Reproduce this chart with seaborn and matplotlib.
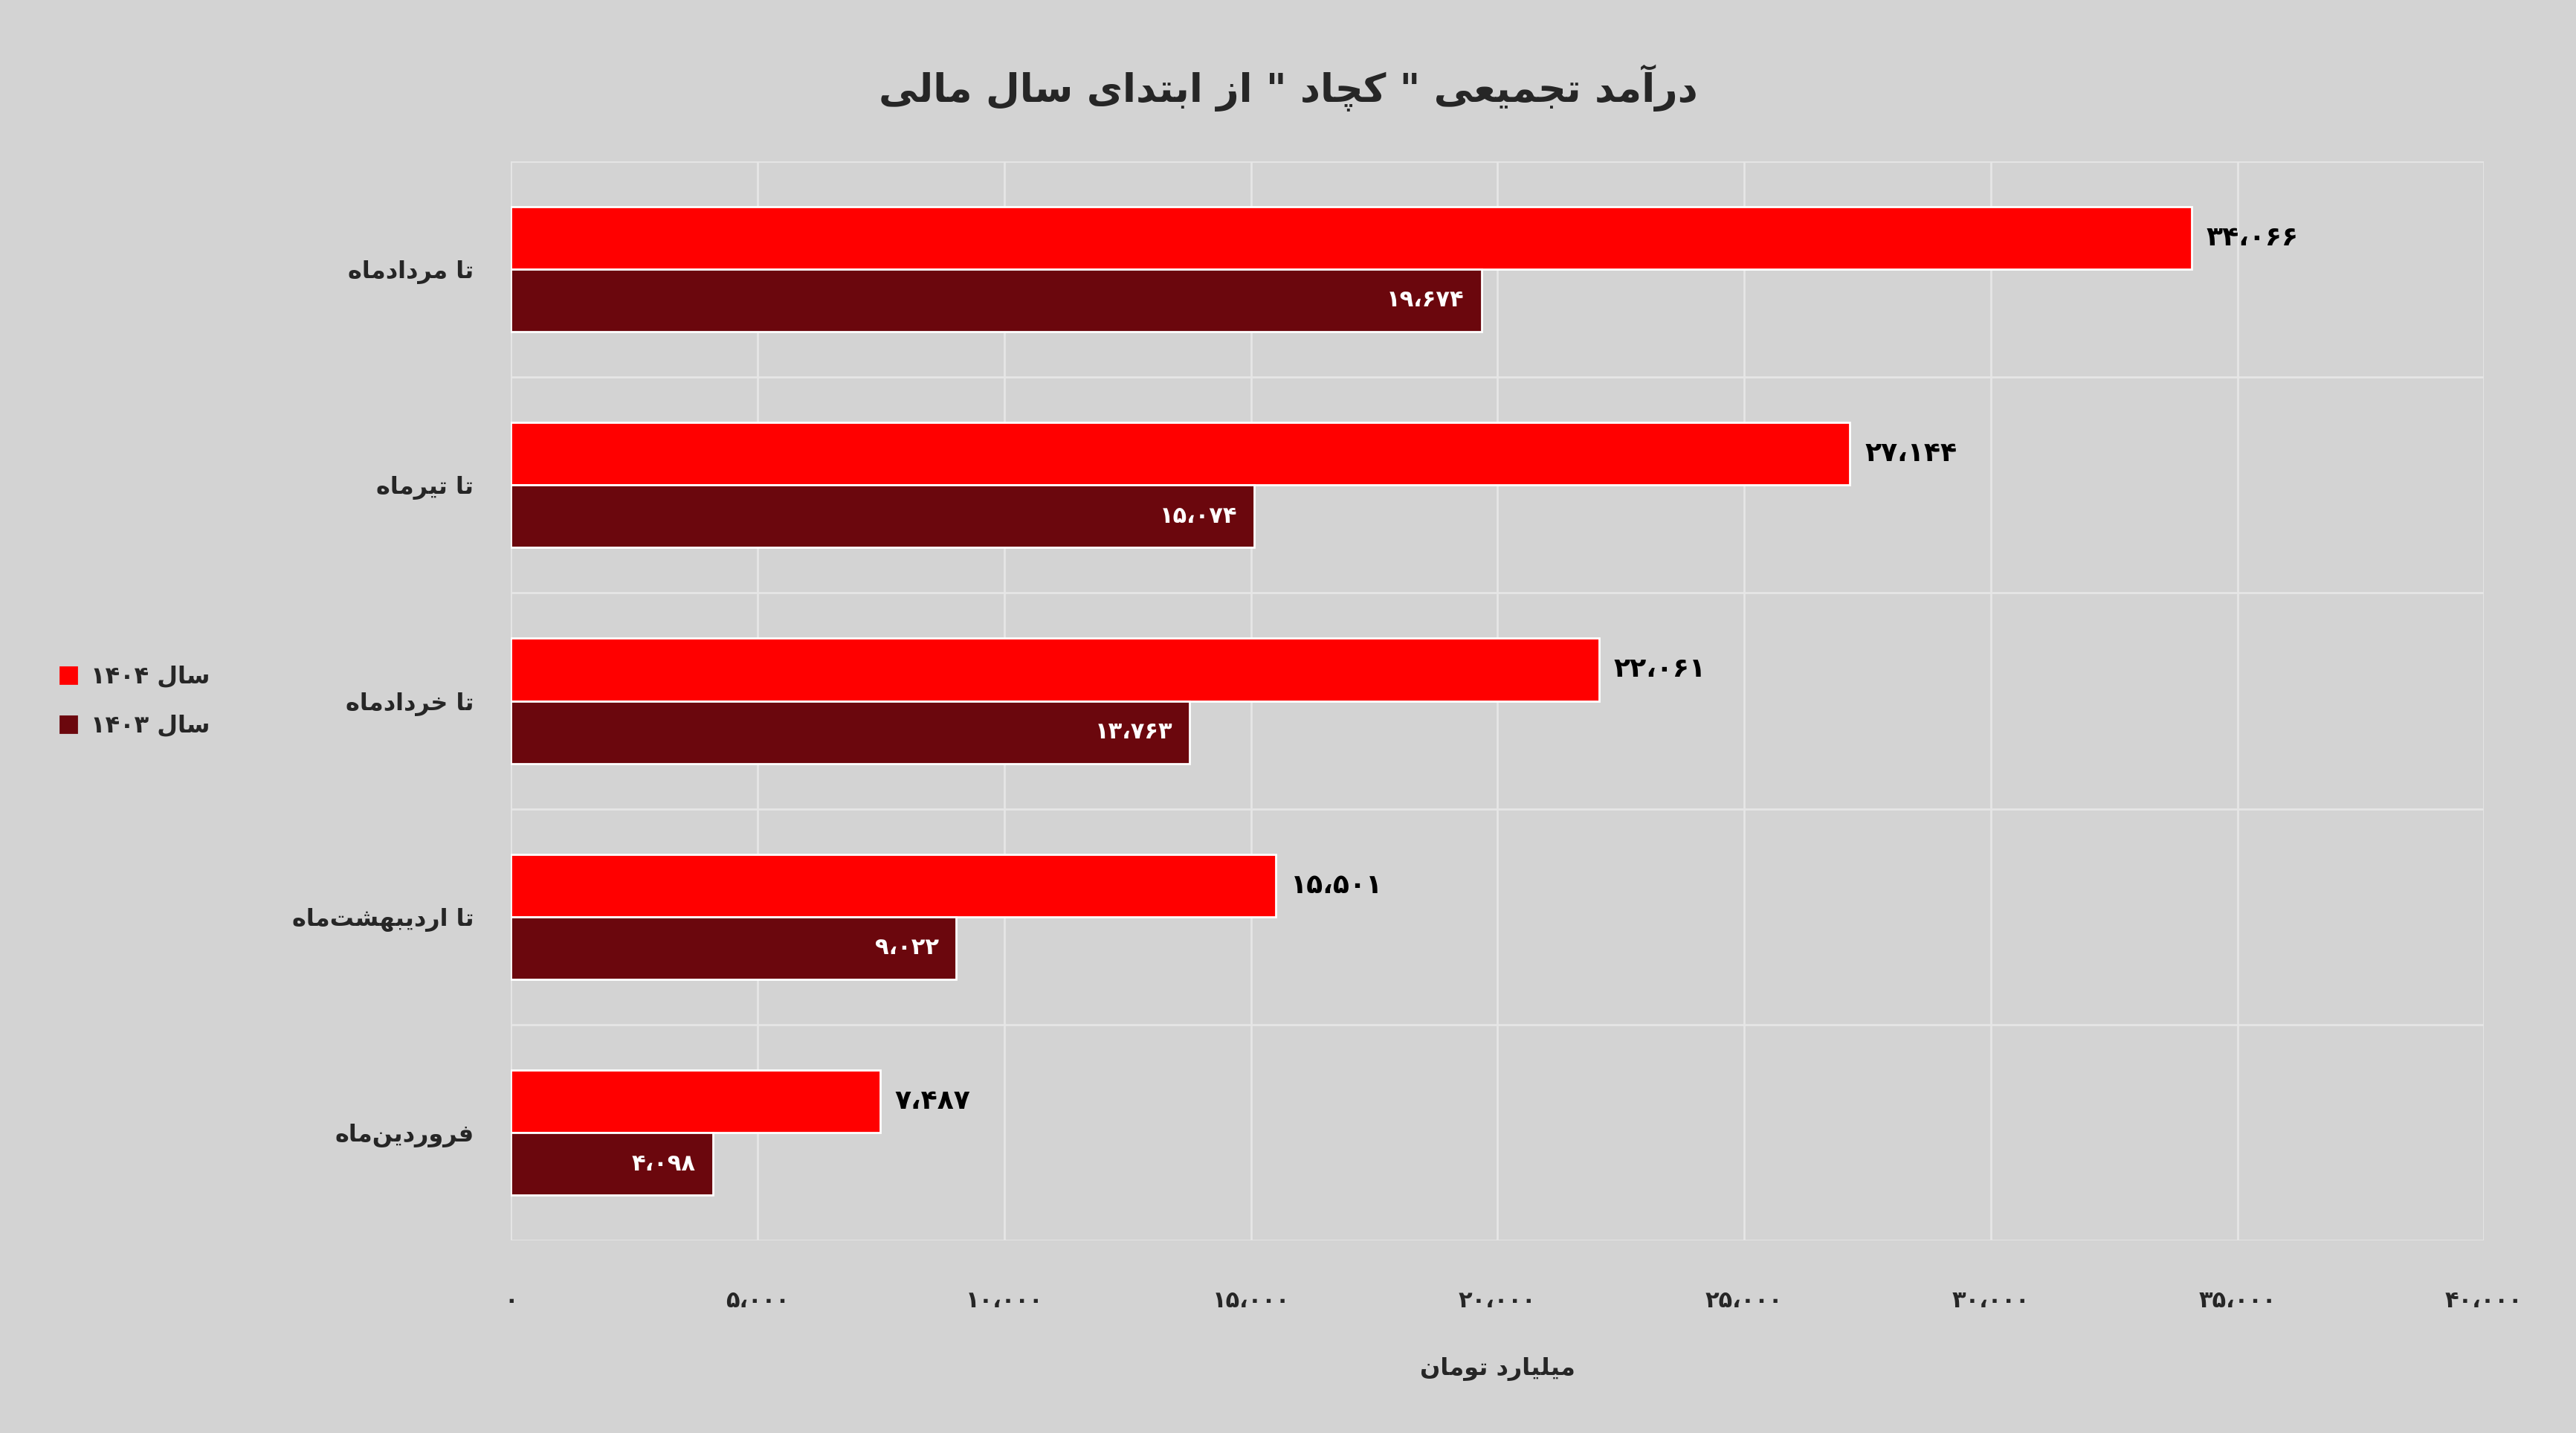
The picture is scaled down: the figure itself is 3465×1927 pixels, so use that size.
import numpy as np
import pandas as pd
import matplotlib
matplotlib.use('Agg')
import matplotlib.pyplot as plt
import seaborn as sns
from matplotlib.patches import Patch

# persian text -> presentation forms in visual order (matplotlib has no shaping)
FORMS = {
    'ا': ('\uFE8D', '\uFE8E', None, None), 'آ': ('\uFE81', '\uFE82', None, None),
    'د': ('\uFEA9', '\uFEAA', None, None), 'ر': ('\uFEAD', '\uFEAE', None, None),
    'ز': ('\uFEAF', '\uFEB0', None, None), 'و': ('\uFEED', '\uFEEE', None, None),
    'ب': ('\uFE8F', '\uFE90', '\uFE91', '\uFE92'), 'ت': ('\uFE95', '\uFE96', '\uFE97', '\uFE98'),
    'ج': ('\uFE9D', '\uFE9E', '\uFE9F', '\uFEA0'), 'خ': ('\uFEA5', '\uFEA6', '\uFEA7', '\uFEA8'),
    'س': ('\uFEB1', '\uFEB2', '\uFEB3', '\uFEB4'), 'ش': ('\uFEB5', '\uFEB6', '\uFEB7', '\uFEB8'),
    'ع': ('\uFEC9', '\uFECA', '\uFECB', '\uFECC'), 'ف': ('\uFED1', '\uFED2', '\uFED3', '\uFED4'),
    'ل': ('\uFEDD', '\uFEDE', '\uFEDF', '\uFEE0'), 'م': ('\uFEE1', '\uFEE2', '\uFEE3', '\uFEE4'),
    'ن': ('\uFEE5', '\uFEE6', '\uFEE7', '\uFEE8'), 'ه': ('\uFEE9', '\uFEEA', '\uFEEB', '\uFEEC'),
    'ی': ('\uFEEF', '\uFEF0', '\uFEF3', '\uFEF4'), 'ک': ('\uFB8E', '\uFB8F', '\uFB90', '\uFB91'),
    'چ': ('\uFB7A', '\uFB7B', '\uFB7C', '\uFB7D'),
}
DIGITS = str.maketrans('0123456789,', '۰۱۲۳۴۵۶۷۸۹،')


def fa(s):
    out = []
    for i, c in enumerate(s):
        if c == '\u200c':
            continue
        if c not in FORMS:
            out.append(c)
            continue
        prev = s[i - 1] if i > 0 else ''
        nxt = s[i + 1] if i + 1 < len(s) else ''
        jp = prev in FORMS and FORMS[prev][2] is not None
        jn = FORMS[c][2] is not None and nxt in FORMS
        f = FORMS[c]
        out.append(f[3] if jp and jn else f[1] if jp else f[2] if jn else f[0])
    # reverse, keeping digit runs left-to-right
    runs, cur = [], ''
    for c in out:
        if c in '۰۱۲۳۴۵۶۷۸۹،' or c.isdigit():
            cur += c
        else:
            if cur:
                runs.append(cur); cur = ''
            runs.append(c)
    if cur:
        runs.append(cur)
    return ''.join(runs[::-1])


def num(v):
    return f'{v:,}'.translate(DIGITS)


categories = ['تا مردادماه', 'تا تیرماه', 'تا خردادماه', 'تا اردیبهشت\u200cماه', 'فروردین\u200cماه']
vals_1404 = [34066, 27144, 22061, 15501, 7487]
vals_1403 = [19674, 15074, 13763, 9022, 4098]
series = ['سال ۱۴۰۴', 'سال ۱۴۰۳']
colors = ['#ff0000', '#6b070d']
xticks = [0, 5000, 10000, 15000, 20000, 25000, 30000, 35000, 40000]

df = pd.DataFrame({
    'cat': categories * 2,
    'val': vals_1404 + vals_1403,
    'ser': [series[0]] * 5 + [series[1]] * 5,
})

bg = '#d3d3d3'
sns.set_style('white')
plt.rcParams['font.family'] = ['DejaVu Sans']
fig = plt.figure(figsize=(17.325, 9.635), dpi=200, facecolor=bg)
ax = fig.add_axes([311 / 1568, 1 - 755 / 872, 1201 / 1568, 657 / 872])
ax.set_facecolor(bg)

sns.barplot(data=df, y='cat', x='val', hue='ser', orient='h', palette=colors,
            width=0.58, ax=ax, legend=False, saturation=1)

ax.set_xlim(0, 40000)
ax.set_ylim(4.5, -0.5)
ax.set_xticks(xticks)
ax.set_xticklabels([num(t) for t in xticks], fontsize=11, fontweight='bold')
ax.set_yticks(range(5))
ax.set_yticklabels([fa(c) for c in categories], fontsize=11.5, fontweight='bold')
ax.tick_params(axis='x', length=0, pad=24)
ax.tick_params(axis='y', length=0, pad=18)
for s in ax.spines.values():
    s.set_visible(False)
for t in xticks:
    ax.axvline(t, color='#e6e6e6', lw=1, zorder=0)
for y in np.arange(-0.5, 5, 1):
    ax.axhline(y, color='#e6e6e6', lw=1, zorder=0)
ax.set_xlabel(fa('میلیارد تومان'), fontsize=11.5, fontweight='bold', labelpad=22)
ax.set_ylabel('')

for i in range(5):
    ax.text(vals_1404[i] + 300, i - 0.145, num(vals_1404[i]), va='center', ha='left',
            fontsize=13, fontweight='bold', color='black')
    ax.text(vals_1403[i] - 350, i + 0.145, num(vals_1403[i]), va='center', ha='right',
            fontsize=11, fontweight='bold', color='white')

handles = [Patch(color=c, label=fa(s)) for c, s in zip(colors, series)]
fig.legend(handles=handles, loc='center left', bbox_to_anchor=(0.015, 1 - 427 / 872),
           frameon=False, fontsize=11.5, prop={'weight': 'bold', 'size': 11.5},
           handlelength=0.7, handleheight=0.7, labelspacing=1.1, handletextpad=0.6)

fig.suptitle(fa('درآمد تجمیعی " کچاد " از ابتدای سال مالی'), y=0.955,
             fontsize=19, fontweight='bold')

fig.savefig('out.png', dpi=200, facecolor=bg)
